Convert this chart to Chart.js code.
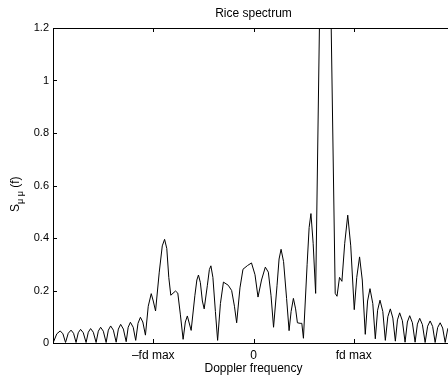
<!DOCTYPE html>
<html>
<head>
<meta charset="utf-8">
<script src="https://cdn.jsdelivr.net/npm/chart.js@4.4.1/dist/chart.umd.min.js"></script>
<style>
  html, body { margin: 0; padding: 0; background: #fff; overflow: hidden; }
  #wrap { width: 454px; height: 379px; position: relative; }
</style>
</head>
<body>
<div id="wrap"><canvas id="riceChart"></canvas></div>
<script>
// Doppler frequency, in units of fd max
const freq = [
  -1.995, -1.962, -1.928, -1.901, -1.875, -1.848, -1.82, -1.795, -1.77, -1.748,
  -1.725, -1.698, -1.67, -1.648, -1.625, -1.598, -1.57, -1.548, -1.525, -1.498,
  -1.47, -1.448, -1.425, -1.398, -1.37, -1.348, -1.325, -1.298, -1.27, -1.25,
  -1.228, -1.2, -1.175, -1.152, -1.128, -1.104, -1.078, -1.05, -1.02, -1.0,
  -0.977, -0.94, -0.91, -0.887, -0.865, -0.845, -0.825, -0.778, -0.755, -0.73,
  -0.702, -0.68, -0.66, -0.622, -0.585, -0.565, -0.549, -0.53, -0.51, -0.492,
  -0.46, -0.44, -0.425, -0.405, -0.38, -0.358, -0.33, -0.3, -0.252, -0.218,
  -0.19, -0.168, -0.135, -0.105, -0.06, -0.02, 0.015, 0.045, 0.08, 0.118,
  0.148, 0.175, 0.2, 0.235, 0.255, 0.275, 0.3, 0.33, 0.355, 0.375,
  0.398, 0.42, 0.438, 0.465, 0.482, 0.498, 0.535, 0.555, 0.573, 0.595,
  0.62, 0.665, 0.715, 0.77, 0.815, 0.833, 0.858, 0.882, 0.91, 0.94,
  0.97, 1.005, 1.03, 1.058, 1.085, 1.115, 1.138, 1.162, 1.19, 1.215,
  1.238, 1.262, 1.29, 1.315, 1.34, 1.365, 1.39, 1.415, 1.436, 1.458,
  1.485, 1.512, 1.535, 1.558, 1.585, 1.612, 1.635, 1.658, 1.685, 1.712,
  1.737, 1.762, 1.787, 1.812, 1.837, 1.862, 1.887, 1.912, 1.937, 1.962,
  1.985, 2.0
];
// S_mumu(f)
const spectrum = [
  0.004, 0.035, 0.046, 0.035, 0.002, 0.037, 0.049, 0.037, 0.002, 0.039,
  0.052, 0.039, 0.002, 0.041, 0.055, 0.041, 0.002, 0.045, 0.06, 0.045,
  0.002, 0.049, 0.065, 0.049, 0.003, 0.053, 0.071, 0.053, 0.005, 0.06,
  0.079, 0.06, 0.01, 0.075, 0.098, 0.08, 0.03, 0.14, 0.188, 0.16,
  0.122, 0.27, 0.37, 0.395, 0.36, 0.25, 0.182, 0.198, 0.19, 0.11,
  0.014, 0.08, 0.103, 0.048, 0.18, 0.24, 0.259, 0.23, 0.16, 0.13,
  0.22, 0.28, 0.294, 0.25, 0.12, 0.01, 0.15, 0.232, 0.22, 0.2,
  0.14, 0.077, 0.21, 0.281, 0.295, 0.305, 0.26, 0.175, 0.24, 0.289,
  0.27, 0.18, 0.06, 0.22, 0.32, 0.357, 0.31, 0.17, 0.047, 0.12,
  0.17, 0.13, 0.077, 0.075, 0.075, 0.018, 0.3, 0.44, 0.493, 0.38,
  0.189, 1.4, 3.0, 1.33, 0.189, 0.178, 0.25, 0.235, 0.38, 0.487,
  0.37, 0.127, 0.25, 0.328, 0.24, 0.033, 0.16, 0.207, 0.15, 0.016,
  0.125, 0.163, 0.12, 0.01, 0.1, 0.13, 0.095, 0.007, 0.088, 0.115,
  0.085, 0.003, 0.08, 0.104, 0.077, 0.003, 0.072, 0.094, 0.07, 0.002,
  0.064, 0.084, 0.063, 0.002, 0.059, 0.077, 0.057, 0.002, 0.053, 0.07,
  0.04, 0.01
];
const xTicks = [-1, 0, 1];
const xTickLabels = ['\u2013fd max', '0', 'fd max'];
const yTicks = [0, 0.2, 0.4, 0.6, 0.8, 1, 1.2];

const FONT = "'Liberation Sans', Arial, Helvetica, sans-serif";

// matlab style: inward ticks, top box line, titles
const matlabFrame = {
  id: 'matlabFrame',
  afterDraw(chart) {
    const { ctx, chartArea: a, scales: { x, y } } = chart;
    ctx.save();
    ctx.strokeStyle = '#000';
    ctx.lineWidth = 1;
    ctx.beginPath();
    ctx.moveTo(a.left, Math.round(a.top) + 0.5);
    ctx.lineTo(a.right, Math.round(a.top) + 0.5);
    xTicks.forEach(v => {
      const px = Math.round(x.getPixelForValue(v)) + 0.5;
      ctx.moveTo(px, a.bottom);
      ctx.lineTo(px, a.bottom - 4);
      ctx.moveTo(px, a.top);
      ctx.lineTo(px, a.top + 4);
    });
    yTicks.forEach(v => {
      const py = Math.round(y.getPixelForValue(v)) + 0.5;
      ctx.moveTo(a.left, py);
      ctx.lineTo(a.left + 4, py);
    });
    ctx.stroke();

    ctx.fillStyle = '#000';
    ctx.textAlign = 'center';
    ctx.textBaseline = 'middle';
    ctx.font = '12px ' + FONT;
    const cx = (a.left + a.right) / 2;
    ctx.fillText('Rice spectrum', cx, 14);
    ctx.fillText('Doppler frequency', cx, 369);

    // y label: S_{mu mu} (f)
    ctx.translate(15, 190);
    ctx.rotate(-Math.PI / 2);
    ctx.textAlign = 'left';
    ctx.textBaseline = 'alphabetic';
    ctx.font = '12px ' + FONT;
    let tx = -22;
    ctx.fillText('S', tx, 4);
    tx += ctx.measureText('S').width;
    ctx.font = '9px ' + FONT;
    ctx.fillText('\u03bc \u03bc', tx, 8);
    tx += ctx.measureText('\u03bc \u03bc').width;
    ctx.font = '12px ' + FONT;
    ctx.fillText(' (f)', tx, 4);
    ctx.restore();
  }
};

new Chart(document.getElementById('riceChart'), {
  type: 'line',
  data: {
    datasets: [{
      data: freq.map((f, i) => ({ x: f, y: spectrum[i] })),
      borderColor: '#000',
      borderWidth: 1,
      pointRadius: 0,
      tension: 0,
      fill: false
    }]
  },
  options: {
    responsive: true,
    maintainAspectRatio: false,
    animation: false,
    devicePixelRatio: 1,
    layout: { padding: { top: 28, right: 0, bottom: 0, left: 0 } },
    plugins: { legend: { display: false }, tooltip: { enabled: false }, title: { display: false } },
    scales: {
      x: {
        type: 'linear',
        min: -2,
        max: 2,
        afterBuildTicks: s => { s.ticks = xTicks.map(v => ({ value: v })); },
        afterFit: s => { s.height = 36; },
        grid: { display: false, drawTicks: false },
        border: { display: true, color: '#000', width: 1 },
        ticks: {
          color: '#000',
          font: { family: FONT, size: 12 },
          padding: 5,
          maxRotation: 0,
          callback: v => xTickLabels[xTicks.indexOf(v)]
        }
      },
      y: {
        min: 0,
        max: 1.2,
        afterBuildTicks: s => { s.ticks = yTicks.map(v => ({ value: v })); },
        afterFit: s => { s.width = 53; },
        grid: { display: false, drawTicks: false },
        border: { display: true, color: '#000', width: 1 },
        ticks: {
          color: '#000',
          font: { family: FONT, size: 11 },
          padding: 4,
          callback: v => String(v)
        }
      }
    }
  },
  plugins: [matlabFrame]
});
</script>
</body>
</html>
